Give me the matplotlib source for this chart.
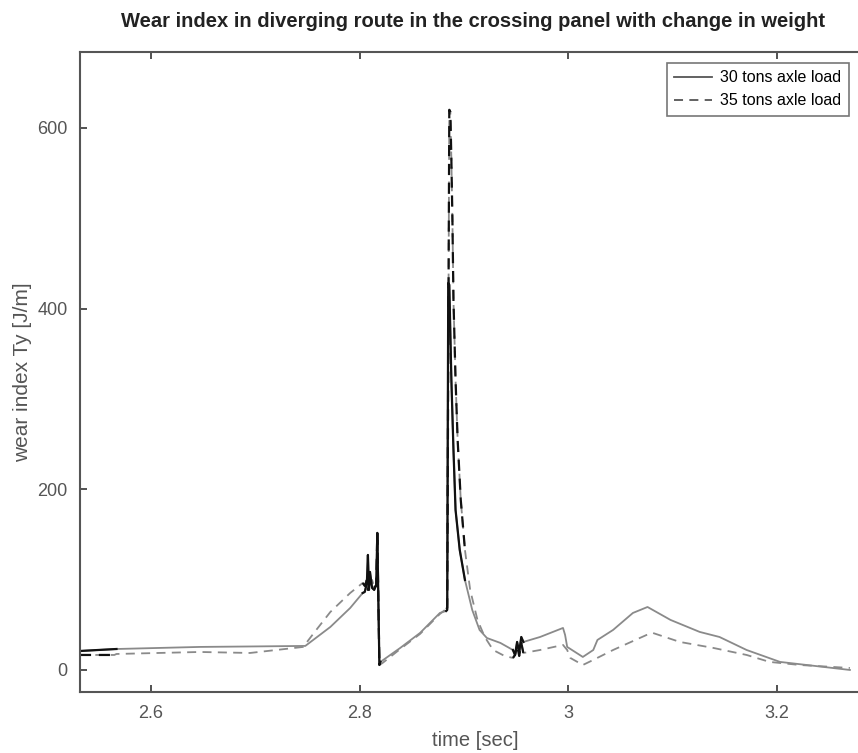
import matplotlib
matplotlib.use("Agg")
import matplotlib.pyplot as plt
import numpy as np

# time [sec] and wear index [J/m]
t30 = [2.532, 2.567, 2.647, 2.695, 2.748, 2.772, 2.791, 2.803, 2.805, 2.807,
       2.808, 2.809, 2.810, 2.812, 2.814, 2.816, 2.817, 2.818, 2.819, 2.820,
       2.839, 2.858, 2.877, 2.883, 2.884, 2.885, 2.886, 2.888, 2.890, 2.892,
       2.896, 2.901, 2.908, 2.915, 2.922, 2.935, 2.947, 2.949, 2.951, 2.953,
       2.955, 2.957, 2.973, 2.995, 2.997, 2.999, 3.014, 3.024, 3.028, 3.043,
       3.062, 3.076, 3.098, 3.126, 3.145, 3.171, 3.203, 3.270]
wear30 = [21.0, 23.2, 25.5, 26.0, 26.6, 47.6, 68.6, 85.2, 86.4, 96.3,
          127.3, 88.6, 108.5, 90.8, 88.6, 94.1, 151.7, 77.5, 5.5, 8.9,
          24.4, 41.0, 63.1, 65.3, 66.4, 428.4, 426.2, 321.0, 243.5, 177.1,
          132.9, 99.6, 66.4, 44.3, 35.4, 29.9, 22.1, 16.6, 31.0, 19.9,
          36.5, 31.0, 36.5, 46.5, 38.7, 25.5, 14.4, 22.1, 33.2, 44.3,
          63.1, 69.7, 55.4, 42.1, 36.5, 22.1, 8.9, 0.0]

t35 = [2.532, 2.565, 2.567, 2.647, 2.695, 2.746, 2.757, 2.772, 2.791, 2.803,
       2.805, 2.807, 2.808, 2.810, 2.812, 2.814, 2.816, 2.817, 2.818, 2.819,
       2.822, 2.839, 2.858, 2.877, 2.883, 2.884, 2.886, 2.887, 2.888, 2.889,
       2.890, 2.892, 2.894, 2.897, 2.901, 2.906, 2.913, 2.920, 2.928, 2.939,
       2.947, 2.949, 2.951, 2.953, 2.955, 2.957, 2.973, 2.995, 2.999, 3.002,
       3.014, 3.024, 3.043, 3.075, 3.081, 3.107, 3.139, 3.171, 3.193, 3.222,
       3.270]
wear35 = [16.6, 16.6, 17.7, 19.9, 18.8, 25.5, 42.1, 64.2, 85.2, 96.3,
          93.0, 99.6, 88.6, 97.4, 99.6, 91.9, 93.0, 151.7, 77.5, 5.5,
          7.7, 23.2, 39.9, 62.0, 67.5, 68.6, 620.0, 617.7, 564.6, 498.2,
          409.6, 321.0, 254.6, 188.2, 132.9, 88.6, 55.4, 36.5, 22.1, 15.5,
          13.3, 16.6, 27.7, 15.5, 29.9, 18.8, 22.1, 27.7, 22.1, 13.3,
          5.5, 11.1, 22.1, 38.7, 41.0, 31.0, 24.4, 16.6, 8.9, 5.5,
          2.2]

# parts of the curves that are drawn in black
black_windows = [(2.53, 2.567), (2.803, 2.820), (2.883, 2.901), (2.947, 2.957)]

gray = "#8a8a8a"
dash = (0, (5, 3.5))
plt.rcParams["font.family"] = ["Liberation Sans", "DejaVu Sans"]

fig = plt.figure(figsize=(8.58, 7.53), dpi=100)
ax = fig.add_axes([0.0932, 0.081, 0.9217, 0.850])

ax.plot(t30, wear30, color=gray, lw=1.3, label="30 tons axle load")
ax.plot(t35, wear35, color=gray, lw=1.3, ls=dash, label="35 tons axle load")

t30a, w30a = np.array(t30), np.array(wear30)
t35a, w35a = np.array(t35), np.array(wear35)
for lo, hi in black_windows:
    m = (t30a >= lo) & (t30a <= hi)
    ax.plot(t30a[m], w30a[m], color="#111111", lw=1.6)
    m = (t35a >= lo) & (t35a <= hi)
    ax.plot(t35a[m], w35a[m], color="#111111", lw=1.6, ls=dash)

ax.set_xlim(2.532, 3.29)
ax.set_ylim(-24.4, 684)
ax.set_xticks([2.6, 2.8, 3.0, 3.2])
ax.set_xticklabels(["2.6", "2.8", "3", "3.2"])
ax.set_yticks([0, 200, 400, 600])
ax.tick_params(direction="in", length=5, width=1.2, colors="#333333",
               labelcolor="#555555", labelsize=13, top=True, right=True, pad=9)
for s in ax.spines.values():
    s.set_color("#555555")
    s.set_linewidth(1.5)

ax.set_xlabel("time [sec]", fontsize=14.5, color="#555555", labelpad=7)
ax.set_ylabel("wear index Ty [J/m]", fontsize=15, color="#555555", labelpad=4)
fig.text(0.551, 0.972, "Wear index in diverging route in the crossing panel with change in weight",
         ha="center", va="center", fontsize=14.5, fontweight="bold", color="#222222")

leg = ax.legend(loc="upper right", bbox_to_anchor=(0.982, 0.995), fontsize=11.5,
                fancybox=False, edgecolor="#555555", handlelength=2.4,
                borderpad=0.45, labelspacing=0.5, handletextpad=0.5)
leg.get_frame().set_linewidth(1.2)
for line in leg.get_lines():
    line.set_color("#555555")

fig.savefig("out.png", dpi=100)
